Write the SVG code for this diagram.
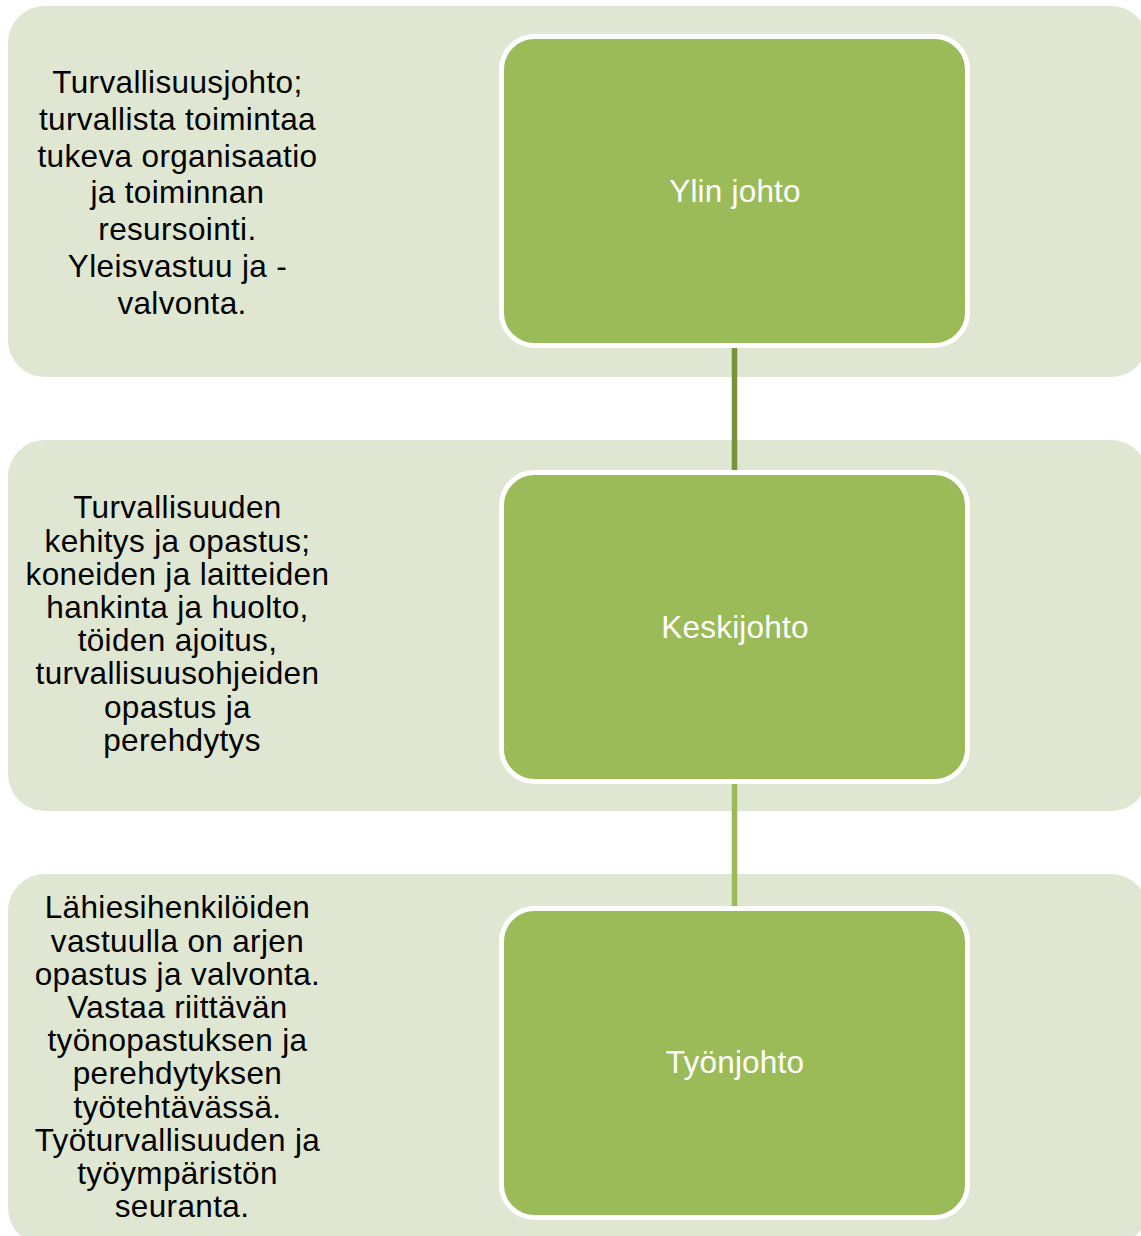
<svg xmlns="http://www.w3.org/2000/svg" width="1141" height="1236" viewBox="0 0 1141 1236">
  <style>
    .band { fill: #DFE6D1; }
    .box { fill: #9BBB59; stroke: #FFFFFF; stroke-width: 5; }
    .desc { font-family: "Liberation Sans", Arial, sans-serif; font-size: 31.5px; letter-spacing: 0.35px; fill: #000000; text-anchor: middle; }
    .label { font-family: "Liberation Sans", Arial, sans-serif; font-size: 31.5px; letter-spacing: 0.2px; fill: #FFFFFF; text-anchor: middle; }
  </style>
  <rect width="1141" height="1236" fill="#FFFFFF"/>
  <g id="bands">
    <rect class="band" x="8" y="6" width="1140" height="371" rx="37" ry="37"/>
    <rect class="band" x="8" y="440" width="1140" height="371" rx="37" ry="37"/>
    <rect class="band" x="8" y="874" width="1140" height="371" rx="37" ry="37"/>
  </g>
  <g id="descriptions">
    <text class="desc" x="182">
      <tspan x="182" y="93.3">Turvallisuusjohto;</tspan>
      <tspan x="182" y="130">turvallista toimintaa</tspan>
      <tspan x="182" y="166.7">tukeva organisaatio</tspan>
      <tspan x="182" y="203.4">ja toiminnan</tspan>
      <tspan x="182" y="240.1">resursointi.</tspan>
      <tspan x="182" y="276.8">Yleisvastuu ja -</tspan>
      <tspan x="182" y="313.5">valvonta.</tspan>
    </text>
    <text class="desc" x="182">
      <tspan x="182" y="518.3">Turvallisuuden</tspan>
      <tspan x="182" y="551.5">kehitys ja opastus;</tspan>
      <tspan x="182" y="584.7">koneiden ja laitteiden</tspan>
      <tspan x="182" y="617.9">hankinta ja huolto,</tspan>
      <tspan x="182" y="651.1">töiden ajoitus,</tspan>
      <tspan x="182" y="684.3">turvallisuusohjeiden</tspan>
      <tspan x="182" y="717.5">opastus ja</tspan>
      <tspan x="182" y="750.7">perehdytys</tspan>
    </text>
    <text class="desc" x="182">
      <tspan x="182" y="918.3">Lähiesihenkilöiden</tspan>
      <tspan x="182" y="951.5">vastuulla on arjen</tspan>
      <tspan x="182" y="984.7">opastus ja valvonta.</tspan>
      <tspan x="182" y="1017.9">Vastaa riittävän</tspan>
      <tspan x="182" y="1051.1">työnopastuksen ja</tspan>
      <tspan x="182" y="1084.3">perehdytyksen</tspan>
      <tspan x="182" y="1117.5">työtehtävässä.</tspan>
      <tspan x="182" y="1150.7">Työturvallisuuden ja</tspan>
      <tspan x="182" y="1183.9">työympäristön</tspan>
      <tspan x="182" y="1217.1">seuranta.</tspan>
    </text>
  </g>
  <g id="connectors">
    <line x1="734.5" y1="347" x2="734.5" y2="471" stroke="#77933C" stroke-width="5.5"/>
    <line x1="734.5" y1="783" x2="734.5" y2="907" stroke="#9BBB59" stroke-width="5.5"/>
  </g>
  <g id="node-ylin-johto">
    <rect class="box" x="501.5" y="36.5" width="466" height="309" rx="33" ry="33"/>
    <text class="label" x="735" y="201.5">Ylin johto</text>
  </g>
  <g id="node-keskijohto">
    <rect class="box" x="501.5" y="472.5" width="466" height="309" rx="33" ry="33"/>
    <text class="label" x="735" y="637.5">Keskijohto</text>
  </g>
  <g id="node-tyonjohto">
    <rect class="box" x="501.5" y="908.5" width="466" height="309" rx="33" ry="33"/>
    <text class="label" x="735" y="1072.5">Työnjohto</text>
  </g>
</svg>
